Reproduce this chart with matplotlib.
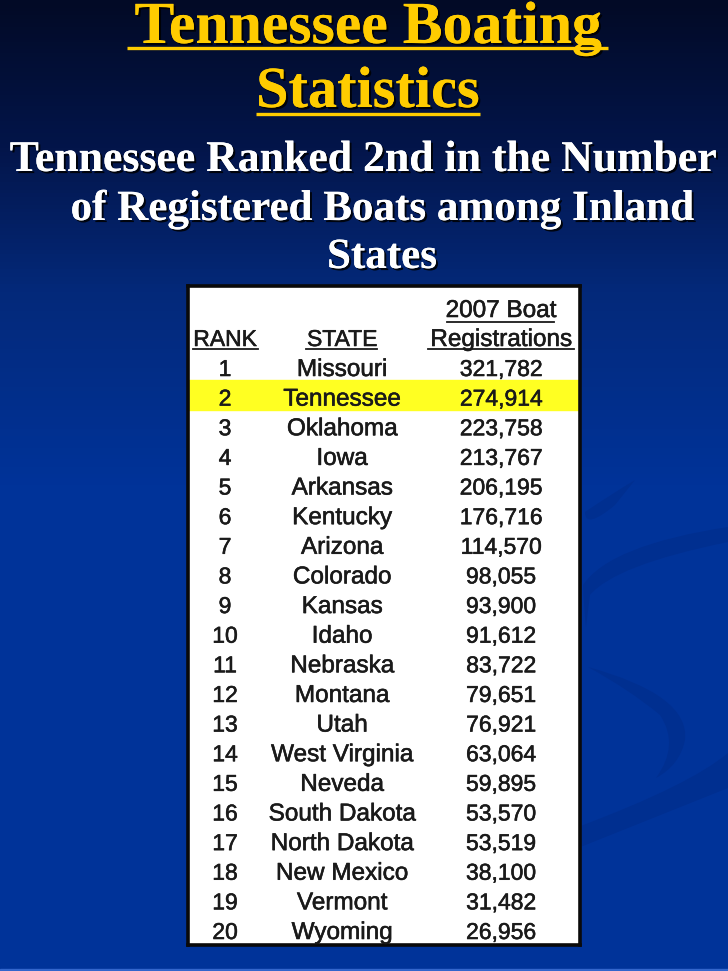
import matplotlib
matplotlib.use('Agg')
import matplotlib.pyplot as plt
import matplotlib.patheffects as pe
from matplotlib.patches import Rectangle, PathPatch
from matplotlib.path import Path
from matplotlib.colors import LinearSegmentedColormap
import numpy as np

ranks = list(range(1, 21))
states = ['Missouri', 'Tennessee', 'Oklahoma', 'Iowa', 'Arkansas', 'Kentucky', 'Arizona',
          'Colorado', 'Kansas', 'Idaho', 'Nebraska', 'Montana', 'Utah', 'West Virginia',
          'Neveda', 'South Dakota', 'North Dakota', 'New Mexico', 'Vermont', 'Wyoming']
registrations = [321782, 274914, 223758, 213767, 206195, 176716, 114570, 98055, 93900, 91612,
                 83722, 79651, 76921, 63064, 59895, 53570, 53519, 38100, 31482, 26956]
highlight_rank = 2

W, H = 728, 971
fig = plt.figure(figsize=(W / 100, H / 100), dpi=100)

# slide background, dark navy at the top to blue at the bottom
bg = fig.add_axes([0, 0, 1, 1])
bg.set_xlim(0, W)
bg.set_ylim(H, 0)
bg.axis('off')
cmap = LinearSegmentedColormap.from_list('slide', [(0, '#020a26'), (0.15, '#03154a'), (0.3, '#04297a'),
                                                   (0.5, '#003399'), (1, '#003399')])
bg.imshow(np.linspace(0, 1, 256).reshape(-1, 1), cmap=cmap, extent=(0, W, H, 0), aspect='auto', zorder=0)
bg.add_patch(Rectangle((0, 969), W, 2, color='#3366cc', zorder=1))

# faint swooshes in the template, right of the table
C3 = Path.CURVE3
swooshes = [
    ([(728, 527), (610, 545), (583, 585), (584, 610), (586, 627), (588, 610), (590, 595), (615, 565), (728, 542), (728, 527)],
     [Path.MOVETO, C3, C3, C3, C3, C3, C3, C3, C3, Path.CLOSEPOLY]),
    ([(588, 667), (690, 695), (685, 740), (680, 765), (656, 778), (680, 745), (660, 715), (630, 690), (588, 667), (588, 667)],
     [Path.MOVETO, C3, C3, C3, C3, C3, C3, C3, C3, Path.CLOSEPOLY]),
    ([(578, 827), (690, 785), (728, 753), (728, 788), (578, 848), (578, 827)],
     [Path.MOVETO, C3, C3, Path.LINETO, Path.LINETO, Path.CLOSEPOLY]),
    ([(635, 480), (610, 495), (585, 512), (585, 530), (615, 505), (635, 480)],
     [Path.MOVETO, C3, C3, C3, C3, Path.CLOSEPOLY]),
]
for verts, codes in swooshes:
    bg.add_patch(PathPatch(Path(verts, codes), facecolor='#002f90', edgecolor='none', zorder=1))

shadow = [pe.withSimplePatchShadow(offset=(1.5, -1.5), shadow_rgbFace='black', alpha=0.85), pe.Normal()]
serif = 'Liberation Serif'

for txt, x, y, fs in [('Tennessee Boating', 368, 43, 43), ('Statistics', 368, 107, 42)]:
    bg.text(x, y, txt, color='#ffcc00', fontsize=fs, family=serif, fontweight='bold',
            ha='center', va='baseline', path_effects=shadow, zorder=3)
for x0, x1, y in [(127, 608, 48), (256, 480, 114)]:
    bg.plot([x0, x1], [y, y], color='#ffcc00', lw=2.4, zorder=3, solid_capstyle='butt')

for txt, x, y, fs in [('Tennessee Ranked 2nd in the Number', 363, 171, 31.5),
                      ('of Registered Boats among Inland', 382, 220, 31),
                      ('States', 382, 268, 31)]:
    bg.text(x, y, txt, color='white', fontsize=fs, family=serif, fontweight='bold',
            ha='center', va='baseline', path_effects=shadow, zorder=3)

# table panel, y runs in rank units
ax = fig.add_axes([188 / W, 1 - 945 / H, (580 - 188) / W, (945 - 286) / H])
step = (931 - 368) / 19
ax.set_xlim(188, 580)
ax.set_ylim(20 + 14 / step, 1 - 82 / step)
ax.set_xticks([])
ax.set_yticks([])
ax.set_facecolor('white')
for s in ax.spines.values():
    s.set_linewidth(2.6)
    s.set_color('#0a0a0a')

ax.axhspan(highlight_rank - 0.6, highlight_rank + 0.42, color='#ffff22', zorder=1)

x_rank, x_state, x_reg = 225, 342, 501
ink = '#1a1a1a'
bold_ink = [pe.withStroke(linewidth=0.4, foreground=ink)]
base = 0.27  # baseline offset below the row centre


def cell(x, y, txt, fs=17.5):
    ax.text(x, y, txt, fontsize=fs, family='Liberation Sans', color=ink, ha='center', va='baseline',
            path_effects=bold_ink, clip_on=True, zorder=3)


for r, st, v in zip(ranks, states, registrations):
    cell(x_rank, r + base, str(r), 16.5)
    cell(x_state, r + base, st)
    cell(x_reg, r + base, f'{v:,}', 16.5)

hdr_y = 1 + (346 - 368) / step
cell(x_rank, hdr_y, 'RANK', 16.5)
cell(x_state, hdr_y, 'STATE', 16.5)
cell(x_reg, hdr_y, 'Registrations')
cell(x_reg, 1 + (317 - 368) / step, '2007 Boat')
for x0, x1, y in [(193, 258, 349), (306, 377, 349), (428, 574, 349), (447, 554, 322)]:
    yr = 1 + (y - 368) / step
    ax.plot([x0, x1], [yr, yr], color=ink, lw=1.3, zorder=3)

fig.savefig('out.png', dpi=100)
